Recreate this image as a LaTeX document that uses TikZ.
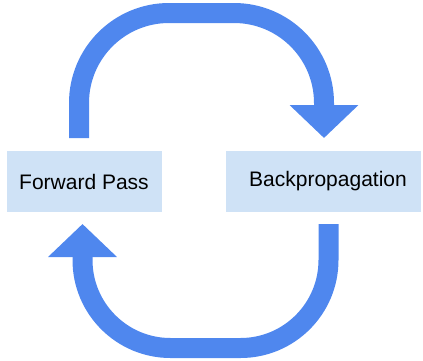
\documentclass[tikz,border=0pt]{standalone}
\usepackage{fontspec}
\setmainfont{Liberation Sans}
\usetikzlibrary{arrows.meta}
\definecolor{arrowblue}{HTML}{4F87EE}
\definecolor{boxblue}{HTML}{CFE2F6}
\tikzset{
  stagebox/.style={fill=boxblue, draw=none, inner sep=0pt, font=\fontsize{21}{25}\selectfont},
  cyclearrow/.style={draw=arrowblue, line width=20pt, line cap=butt,
    -{Triangle[width=67pt,length=33pt]}}
}
\begin{document}
\begin{tikzpicture}[x=1pt,y=-1pt]
\useasboundingbox (0,0) rectangle (423,360);
\node[stagebox, minimum width=155pt, minimum height=61pt] (fwd) at (84.5,181.5) {};
\node at (84,181.5) [font=\fontsize{21}{25}\selectfont] (fwdt) {Forward Pass};
\node[stagebox, minimum width=195pt, minimum height=61pt] (bwd) at (323.5,181.5) {};
\node at (328,181.5) [font=\fontsize{21}{25}\selectfont] (bwdt) {Backpropagation};
\coordinate (a1) at (79,138);
\coordinate (a2) at (324,138);
\coordinate (b1) at (328.5,224);
\coordinate (b2) at (82.5,224);
\draw[cyclearrow, rounded corners=90pt] (a1) -- (79,13) -- (324,13) -- (a2);
\draw[cyclearrow, rounded corners=88pt] (b1) -- (328.5,348) -- (82.5,348) -- (b2);
\end{tikzpicture}
\end{document}
